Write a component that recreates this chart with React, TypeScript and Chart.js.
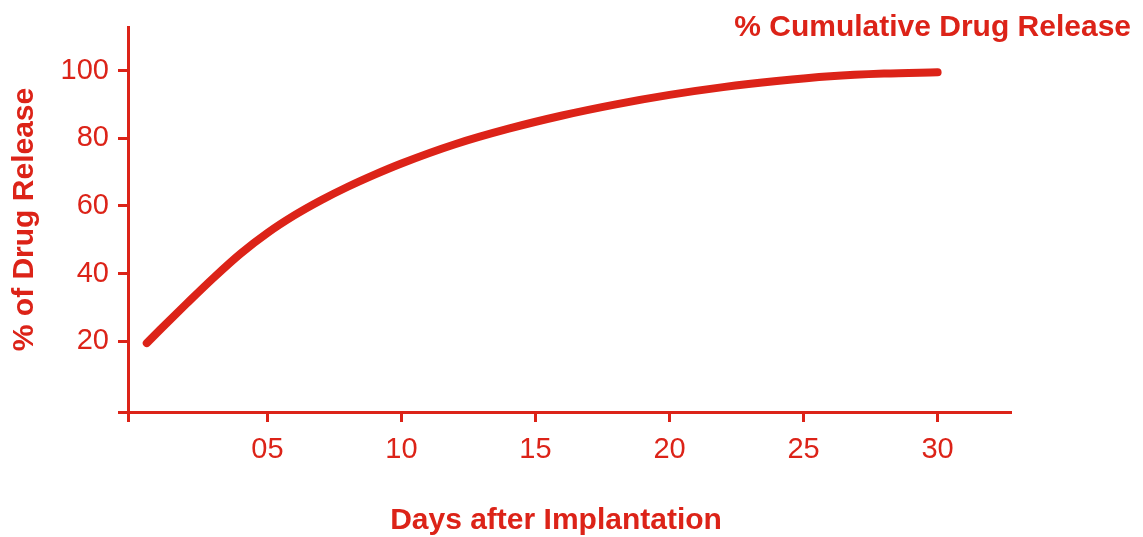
import React, { useEffect, useRef } from "react";
import { Chart, registerables } from "chart.js";

Chart.register(...registerables);

const RED = "#dc2318";
const FONT = "'Liberation Sans', Arial, Helvetica, sans-serif";

const SERIES_LABEL = "% Cumulative Drug Release";
const X_TITLE = "Days after Implantation";
const Y_TITLE = "% of Drug Release";

const days = [0.5, 1, 2, 3, 4, 5, 6, 7, 8, 9, 10, 12, 14, 16, 18, 20, 22, 24, 26, 28, 30];
const release = [19.4, 23.4, 31.2, 38.8, 45.9, 52, 57.2, 61.7, 65.7, 69.3, 72.6, 78.3, 82.9, 86.8, 90.1, 92.9, 95.2, 97, 98.4, 99.2, 99.6];

const X_MIN = -0.2;
const X_MAX = 32.7;
const xTickValues = [X_MIN, 5, 10, 15, 20, 25, 30];
const xTickLabels = ["", "05", "10", "15", "20", "25", "30"];

const Y_MIN = -1;
const Y_MAX = 113;
const yTickValues = [Y_MIN, 20, 40, 60, 80, 100];
const yTickLabels = ["", "20", "40", "60", "80", "100"];

const textPlugin = {
  id: "extraText",
  afterDraw(chart: any) {
    const ctx = chart.ctx;
    ctx.save();
    ctx.font = `bold 30px ${FONT}`;
    ctx.fillStyle = RED;
    ctx.textBaseline = "alphabetic";
    ctx.textAlign = "right";
    ctx.fillText(SERIES_LABEL, 1131, 36);
    ctx.textAlign = "center";
    ctx.fillText(X_TITLE, 556, 529);
    ctx.restore();
  },
};

export default function App() {
  const ref = useRef<HTMLCanvasElement | null>(null);

  useEffect(() => {
    if (!ref.current) return;
    const points = days.map((d, i) => ({ x: d, y: release[i] }));
    const chart = new Chart(ref.current, {
      type: "line",
      data: {
        datasets: [
          {
            label: SERIES_LABEL,
            data: points,
            borderColor: RED,
            backgroundColor: RED,
            borderWidth: 8,
            borderCapStyle: "round",
            borderJoinStyle: "round",
            pointRadius: 0,
            cubicInterpolationMode: "monotone",
            fill: false,
          },
        ],
      },
      options: {
        animation: false,
        responsive: false,
        maintainAspectRatio: false,
        layout: { padding: { top: 27, right: 133, bottom: 0, left: 0 } },
        plugins: {
          legend: { display: false },
          tooltip: { enabled: false },
        },
        scales: {
          x: {
            type: "linear",
            min: X_MIN,
            max: X_MAX,
            afterBuildTicks: (s: any) => {
              s.ticks = xTickValues.map((v) => ({ value: v }));
            },
            afterFit: (s: any) => {
              s.height = 125;
            },
            ticks: {
              color: RED,
              font: { family: FONT, size: 29 },
              padding: 11,
              maxRotation: 0,
              autoSkip: false,
              callback: (v: any, i: number) => xTickLabels[i],
            },
            grid: {
              display: true,
              drawOnChartArea: false,
              drawTicks: true,
              tickLength: 10,
              tickWidth: 3,
              tickColor: RED,
              color: RED,
              lineWidth: 3,
            },
            border: { display: true, color: RED, width: 3 },
            title: { display: false },
          },
          y: {
            type: "linear",
            min: Y_MIN,
            max: Y_MAX,
            afterBuildTicks: (s: any) => {
              s.ticks = yTickValues.map((v) => ({ value: v }));
            },
            afterFit: (s: any) => {
              s.width = 128;
            },
            ticks: {
              color: RED,
              font: { family: FONT, size: 29 },
              padding: 9,
              autoSkip: false,
              callback: (v: any, i: number) => yTickLabels[i],
            },
            grid: {
              display: true,
              drawOnChartArea: false,
              drawTicks: true,
              tickLength: 10,
              tickWidth: 3,
              tickColor: RED,
              color: RED,
              lineWidth: 3,
            },
            border: { display: true, color: RED, width: 3 },
            title: {
              display: true,
              text: Y_TITLE,
              color: RED,
              font: { family: FONT, size: 30, weight: "bold", lineHeight: 1 },
              padding: { top: 10, bottom: 0 },
            },
          },
        },
      },
      plugins: [textPlugin],
    });
    return () => chart.destroy();
  }, []);

  return (
    <div style={{ position: "fixed", left: 0, top: 0, width: 1143, height: 537, background: "#fff" }}>
      <canvas ref={ref} width={1143} height={537} style={{ display: "block" }} />
    </div>
  );
}
